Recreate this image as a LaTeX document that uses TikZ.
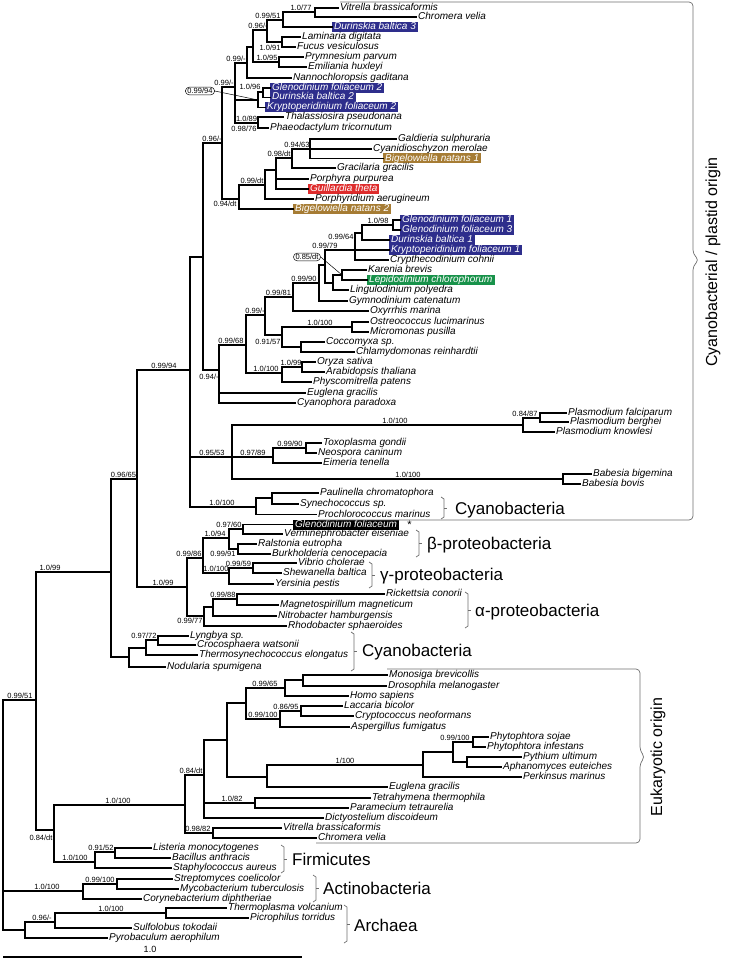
\documentclass[tikz,border=0pt]{standalone}
\usepackage{fontspec}
\setmainfont{Liberation Sans}
\definecolor{dblue}{RGB}{46,46,140}
\definecolor{brn}{RGB}{166,124,52}
\definecolor{rd}{RGB}{222,44,44}
\definecolor{grn}{RGB}{24,146,74}
\definecolor{brk}{RGB}{110,110,110}
\tikzset{
 br/.style={line width=1.3pt, line cap=rect},
 leaf/.style={anchor=west, inner xsep=2pt, inner ysep=0pt, font=\fontsize{10}{10}\selectfont\itshape, text height=7pt, text depth=2pt},
 bx/.style={leaf, fill=#1, text=white, inner ysep=0.5pt},
 sup/.style={anchor=south, inner sep=0pt, font=\fontsize{7.5}{8}\selectfont, text height=5.5pt, text depth=0pt},
 supb/.style={sup, anchor=north},
 grp/.style={anchor=base west, inner sep=0pt, font=\fontsize{17}{18}\selectfont},
 brace/.style={draw=brk, line width=0.7pt},
 oval/.style={draw, rounded corners=3.5pt, inner xsep=2pt, inner ysep=1pt, font=\fontsize{7.5}{8}\selectfont, line width=0.5pt},
}
\newcommand{\tEl}[2]{\draw[br] (#1) |- (#2);}
\newcommand{\tLf}[2]{\draw[br] (#1) |- (#2.west);}
\newcommand{\tLv}[4]{\node[leaf] (#1) at (#2,#3) {#4};}
\newcommand{\tBx}[5]{\node[bx=#5] (#1) at (#2,#3) {#4};}
\newcommand{\tSu}[4]{\node[sup] (#1) at (#2,#3) {#4};}
\newcommand{\tSb}[4]{\node[supb] (#1) at (#2,#3) {#4};}
\newcommand{\tIc}[3]{\coordinate (#1) at (#2,#3);}
\newcommand{\tGb}[3]{\draw[brace] ({#1-3},#2) -- (#1,{#2+2}) -- (#1,{#3-2}) -- ({#1-3},#3); \draw[brace] (#1,{(#2+#3)/2}) -- ({#1+3},{(#2+#3)/2});}
\begin{document}
\begin{tikzpicture}[x=1pt,y=-1pt]
\useasboundingbox (0,0) rectangle (728,960);
% ---------------- leaves ----------------
\tLv{L1}{338}{8}{Vitrella brassicaformis}
\tLv{L2}{416}{17}{Chromera velia}
\tBx{L3}{332}{27}{Durinskia baltica 3}{dblue}
\tLv{L4}{300}{37}{Laminaria digitata}
\tLv{L5}{295}{47}{Fucus vesiculosus}
\tLv{L6}{303}{57}{Prymnesium parvum}
\tLv{L7}{306}{67}{Emiliania huxleyi}
\tLv{L8}{291}{78}{Nannochloropsis gaditana}
\tBx{L9}{270}{88}{Glenodinium foliaceum 2}{dblue}
\tBx{L10}{270}{97.5}{Durinskia baltica 2}{dblue}
\tBx{L11}{265}{107.5}{Kryptoperidinium foliaceum 2}{dblue}
\tLv{L12}{283}{117}{Thalassiosira pseudonana}
\tLv{L13}{268}{128}{Phaeodactylum tricornutum}
\tLv{L14}{396}{139}{Galdieria sulphuraria}
\tLv{L15}{371}{149}{Cyanidioschyzon merolae}
\tBx{L16}{383}{158.5}{Bigelowiella natans 1}{brn}
\tLv{L17}{335}{168}{Gracilaria gracilis}
\tLv{L18}{308}{179}{Porphyra purpurea}
\tBx{L19}{308}{189}{Guillardia theta}{rd}
\tLv{L20}{313}{199}{Porphyridium aerugineum}
\tBx{L21}{293}{209}{Bigelowiella natans 2}{brn}
\tBx{L22}{400}{220}{Glenodinium foliaceum 1}{dblue}
\tBx{L23}{400}{230}{Glenodinium foliaceum 3}{dblue}
\tBx{L24}{389}{240}{Durinskia baltica 1}{dblue}
\tBx{L25}{389}{250}{Kryptoperidinium foliaceum 1}{dblue}
\tLv{L26}{388}{260}{Crypthecodinium cohnii}
\tLv{L27}{366}{270}{Karenia brevis}
\tBx{L28}{367}{280}{Lepidodinium chlorophorum}{grn}
\tLv{L29}{348}{290}{Lingulodinium polyedra}
\tLv{L30}{347}{301}{Gymnodinium catenatum}
\tLv{L31}{368}{311}{Oxyrrhis marina}
\tLv{L32}{368}{322}{Ostreococcus lucimarinus}
\tLv{L33}{368}{332}{Micromonas pusilla}
\tLv{L34}{324}{342}{Coccomyxa sp.}
\tLv{L35}{354}{352}{Chlamydomonas reinhardtii}
\tLv{L36}{315}{362}{Oryza sativa}
\tLv{L37}{324}{372}{Arabidopsis thaliana}
\tLv{L38}{311}{382}{Physcomitrella patens}
\tLv{L39}{305}{393}{Euglena gracilis}
\tLv{L40}{295}{403}{Cyanophora paradoxa}
\tLv{L41}{566}{413}{Plasmodium falciparum}
\tLv{L42}{568}{422}{Plasmodium berghei}
\tLv{L43}{554}{432}{Plasmodium knowlesi}
\tLv{L44}{321}{443}{Toxoplasma gondii}
\tLv{L45}{316}{453}{Neospora caninum}
\tLv{L46}{321}{463}{Eimeria tenella}
\tLv{L47}{591}{474}{Babesia bigemina}
\tLv{L48}{580}{484}{Babesia bovis}
\tLv{L49}{318}{493}{Paulinella chromatophora}
\tLv{L50}{298}{504}{Synechococcus sp.}
\tLv{L51}{316}{514.5}{Prochlorococcus marinus}
\tBx{L52}{293}{524.5}{Glenodinium foliaceum}{black}
\tLv{L53}{282}{534}{Verminephrobacter eiseniae}
\tLv{L54}{256}{544}{Ralstonia eutropha}
\tLv{L55}{270}{554}{Burkholderia cenocepacia}
\tLv{L56}{296}{563}{Vibrio cholerae}
\tLv{L57}{281}{573}{Shewanella baltica}
\tLv{L58}{273}{584}{Yersinia pestis}
\tLv{L59}{384}{594}{Rickettsia conorii}
\tLv{L60}{278}{605}{Magnetospirillum magneticum}
\tLv{L61}{276}{616}{Nitrobacter hamburgensis}
\tLv{L62}{286}{626}{Rhodobacter sphaeroides}
\tLv{L63}{188}{636}{Lyngbya sp.}
\tLv{L64}{195}{645}{Crocosphaera watsonii}
\tLv{L65}{197}{655}{Thermosynechococcus elongatus}
\tLv{L66}{165}{667}{Nodularia spumigena}
\tLv{L67}{387}{675}{Monosiga brevicollis}
\tLv{L68}{386}{686}{Drosophila melanogaster}
\tLv{L69}{348}{696}{Homo sapiens}
\tLv{L70}{342}{706}{Laccaria bicolor}
\tLv{L71}{353}{716}{Cryptococcus neoformans}
\tLv{L72}{349}{727}{Aspergillus fumigatus}
\tLv{L73}{488}{737}{Phytophtora sojae}
\tLv{L74}{485}{747}{Phytophtora infestans}
\tLv{L75}{521}{757}{Pythium ultimum}
\tLv{L76}{501}{767}{Aphanomyces euteiches}
\tLv{L77}{521}{777}{Perkinsus marinus}
\tLv{L78}{387}{787}{Euglena gracilis}
\tLv{L79}{370}{798}{Tetrahymena thermophila}
\tLv{L80}{348}{808}{Paramecium tetraurelia}
\tLv{L81}{323}{818}{Dictyostelium discoideum}
\tLv{L82}{281}{828}{Vitrella brassicaformis}
\tLv{L83}{316}{838}{Chromera velia}
\tLv{L84}{151}{848}{Listeria monocytogenes}
\tLv{L85}{170}{858}{Bacillus anthracis}
\tLv{L86}{171}{868}{Staphylococcus aureus}
\tLv{L87}{172}{879}{Streptomyces coelicolor}
\tLv{L88}{178}{889}{Mycobacterium tuberculosis}
\tLv{L89}{141}{899}{Corynebacterium diphtheriae}
\tLv{L90}{226}{908}{Thermoplasma volcanium}
\tLv{L91}{248}{918}{Picrophilus torridus}
\tLv{L92}{131}{928}{Sulfolobus tokodaii}
\tLv{L93}{107}{938}{Pyrobaculum aerophilum}
\node[anchor=base west, inner sep=0pt, font=\fontsize{11}{11}\selectfont] (ast) at ([xshift=8pt]L52.east |- 0,528) {*};
% ---------------- internal nodes ----------------
\tIc{n077}{315}{12} \tIc{n051}{283}{20} \tIc{n091}{282}{42} \tIc{n096}{267}{30}
\tIc{n095}{279}{62} \tIc{nB}{253}{47} \tIc{nA}{247}{63} \tIc{nD1}{263}{92}
\tIc{nD}{258}{100} \tIc{nE}{258}{123} \tIc{nC}{235}{87}
\tIc{nU}{310}{149} \tIc{nS}{292}{158} \tIc{nR}{276}{170} \tIc{nQ}{265}{185}
\tIc{n239}{239}{199} \tIc{nP}{222}{143}
\tIc{nV}{393}{225} \tIc{nW}{362}{233} \tIc{nX}{355}{250} \tIc{nN4}{342}{275}
\tIc{nN5}{333}{283} \tIc{nN2}{325}{265} \tIc{nN1}{319}{283} \tIc{n293}{293}{297}
\tIc{n352}{352}{327} \tIc{n301}{301}{347} \tIc{n282a}{282}{335} \tIc{n265}{265}{315}
\tIc{n302}{302}{367} \tIc{n282b}{282}{373} \tIc{n246}{246}{345} \tIc{n219}{219}{370}
\tIc{n203}{203}{257}
\tIc{n540}{540}{418} \tIc{n523}{523}{425} \tIc{n306}{306}{448} \tIc{n273}{273}{457}
\tIc{n563}{563}{479} \tIc{n232}{232}{457} \tIc{n272}{272}{498} \tIc{n256}{256}{507}
\tIc{n190}{190}{370}
\tIc{n243}{243}{529} \tIc{n238}{238}{549} \tIc{n229b}{229}{538} \tIc{n253}{253}{568}
\tIc{n229g}{229}{573} \tIc{n203p}{203}{558} \tIc{n237}{237}{599} \tIc{n213}{213}{607}
\tIc{n204}{204}{616} \tIc{n187}{187}{587} \tIc{n137}{137}{479}
\tIc{n158}{158}{640} \tIc{n146}{146}{648} \tIc{n129}{129}{657} \tIc{n111}{111}{572}
\tIc{n303}{303}{680} \tIc{n285}{285}{688} \tIc{n301e}{301}{711} \tIc{n280}{280}{719}
\tIc{n246e}{246}{703} \tIc{n473}{473}{742} \tIc{n467}{467}{762} \tIc{n453}{453}{752}
\tIc{n423}{423}{765} \tIc{n267}{267}{777} \tIc{n227}{227}{740} \tIc{n255}{255}{803}
\tIc{n204e}{204}{775} \tIc{n213e}{213}{833} \tIc{n185}{185}{805}
\tIc{n115}{115}{852} \tIc{n095f}{95}{862} \tIc{n054}{54}{830} \tIc{n036}{36}{700}
\tIc{n117}{117}{884} \tIc{n083}{83}{891}
\tIc{n166}{166}{913} \tIc{n055}{55}{922} \tIc{n025}{25}{930} \tIc{n003}{3}{815}
% ---------------- branches ----------------
\tLf{n077}{L1} \tLf{n077}{L2} \tEl{n051}{n077} \tLf{n051}{L3}
\tLf{n091}{L4} \tLf{n091}{L5} \tEl{n096}{n051} \tEl{n096}{n091}
\tLf{n095}{L6} \tLf{n095}{L7} \tEl{nB}{n096} \tEl{nB}{n095}
\tEl{nA}{nB} \tLf{nA}{L8}
\tLf{nD1}{L9} \tLf{nD1}{L10} \tEl{nD}{nD1} \tLf{nD}{L11}
\tLf{nE}{L12} \tLf{nE}{L13}
\tEl{nC}{nA} \tEl{nC}{nD} \tEl{nC}{nE}
\tLf{nU}{L14} \tLf{nU}{L15} \tLf{nU}{L16} \tEl{nS}{nU} \tLf{nS}{L17}
\tEl{nR}{nS} \tLf{nR}{L18} \tLf{nR}{L19} \tEl{nQ}{nR} \tLf{nQ}{L20}
\tEl{n239}{nQ} \tLf{n239}{L21}
\tEl{nP}{nC} \tEl{nP}{n239}
\tLf{nV}{L22} \tLf{nV}{L23} \tEl{nW}{nV} \tLf{nW}{L24}
\tEl{nX}{nW} \tLf{nX}{L25} \tLf{nX}{L26}
\tLf{nN4}{L27} \tLf{nN4}{L28} \tEl{nN5}{nN4} \tLf{nN5}{L29}
\tEl{nN2}{nX} \tEl{nN2}{nN5} \tEl{nN1}{nN2} \tLf{nN1}{L30}
\tEl{n293}{nN1} \tLf{n293}{L31}
\tLf{n352}{L32} \tLf{n352}{L33} \tLf{n301}{L34} \tLf{n301}{L35}
\tEl{n282a}{n352} \tEl{n282a}{n301} \tEl{n265}{n293} \tEl{n265}{n282a}
\tLf{n302}{L36} \tLf{n302}{L37} \tEl{n282b}{n302} \tLf{n282b}{L38}
\tEl{n246}{n265} \tEl{n246}{n282b}
\tEl{n219}{n246} \tLf{n219}{L39} \tLf{n219}{L40}
\tEl{n203}{nP} \tEl{n203}{n219}
\tLf{n540}{L41} \tLf{n540}{L42} \tEl{n523}{n540} \tLf{n523}{L43}
\tLf{n306}{L44} \tLf{n306}{L45} \tEl{n273}{n306} \tLf{n273}{L46}
\tLf{n563}{L47} \tLf{n563}{L48}
\tEl{n232}{n523} \tEl{n232}{n273} \tEl{n232}{n563}
\tLf{n272}{L49} \tLf{n272}{L50} \tEl{n256}{n272} \tLf{n256}{L51}
\tEl{n190}{n203} \tEl{n190}{n232} \tEl{n190}{n256}
\tLf{n243}{L52} \tLf{n243}{L53} \tLf{n238}{L54} \tLf{n238}{L55}
\tEl{n229b}{n243} \tEl{n229b}{n238}
\tLf{n253}{L56} \tLf{n253}{L57} \tEl{n229g}{n253} \tLf{n229g}{L58}
\tEl{n203p}{n229b} \tEl{n203p}{n229g}
\tLf{n237}{L59} \tLf{n237}{L60} \tEl{n213}{n237} \tLf{n213}{L61}
\tEl{n204}{n213} \tLf{n204}{L62}
\tEl{n187}{n203p} \tEl{n187}{n204}
\tEl{n137}{n190} \tEl{n137}{n187}
\tLf{n158}{L63} \tLf{n158}{L64} \tEl{n146}{n158} \tLf{n146}{L65}
\tEl{n129}{n146} \tLf{n129}{L66}
\tEl{n111}{n137} \tEl{n111}{n129}
\tLf{n303}{L67} \tLf{n303}{L68} \tEl{n285}{n303} \tLf{n285}{L69}
\tLf{n301e}{L70} \tLf{n301e}{L71} \tEl{n280}{n301e} \tLf{n280}{L72}
\tEl{n246e}{n285} \tEl{n246e}{n280}
\tLf{n473}{L73} \tLf{n473}{L74} \tLf{n467}{L75} \tLf{n467}{L76}
\tEl{n453}{n473} \tEl{n453}{n467} \tEl{n423}{n453} \tLf{n423}{L77}
\tEl{n267}{n423} \tLf{n267}{L78}
\tEl{n227}{n246e} \tEl{n227}{n267}
\tLf{n255}{L79} \tLf{n255}{L80}
\tEl{n204e}{n227} \tEl{n204e}{n255} \tLf{n204e}{L81}
\tLf{n213e}{L82} \tLf{n213e}{L83}
\tEl{n185}{n204e} \tEl{n185}{n213e}
\tLf{n115}{L84} \tLf{n115}{L85} \tEl{n095f}{n115} \tLf{n095f}{L86}
\tEl{n054}{n185} \tEl{n054}{n095f}
\tEl{n036}{n111} \tEl{n036}{n054}
\tLf{n117}{L87} \tLf{n117}{L88} \tEl{n083}{n117} \tLf{n083}{L89}
\tLf{n166}{L90} \tLf{n166}{L91} \tEl{n055}{n166} \tLf{n055}{L92}
\tEl{n025}{n055} \tLf{n025}{L93}
\tEl{n003}{n036} \tEl{n003}{n083} \tEl{n003}{n025}
% ---------------- support values ----------------
\tSu{s1}{301}{10.5}{1.0/77}
\tSu{s2}{268}{18.5}{0.99/51}
\tSu{s3}{258}{28.5}{0.96/-}
\tSb{s4}{270}{45}{1.0/91}
\tSu{s5}{236}{61.5}{0.99/-}
\tSu{s6}{267}{60.5}{1.0/95}
\tSu{s7}{224}{85.5}{0.99/-}
\tSu{s8}{250}{90}{1.0/96}
\tSu{s9}{246.5}{121.5}{1.0/89}
\tSb{s10}{244}{126}{0.98/76}
\tSu{s11}{212}{141.5}{0.96/-}
\tSu{s12}{297}{147.5}{0.94/63}
\tSu{s13}{279}{156.5}{0.98/dt}
\tSu{s14}{252}{183.5}{0.99/dt}
\tSb{s15}{225}{201}{0.94/dt}
\tSu{s16}{378}{223.5}{1.0/98}
\tSu{s17}{341}{240}{0.99/64}
\tSu{s18}{325}{248.5}{0.99/79}
\tSu{s19}{304}{281.5}{0.99/90}
\tSu{s20}{278.5}{295.5}{0.99/81}
\tSu{s21}{255}{313.5}{0.99/-}
\tSu{s22}{320}{325.5}{1.0/100}
\tSb{s23}{268}{339}{0.91/57}
\tSu{s24}{231}{343.5}{0.99/68}
\tSu{s25}{291}{365.5}{1.0/99}
\tSu{s26}{266}{371.5}{1.0/100}
\tSb{s27}{209}{374}{0.94/-}
\tSu{s28}{164}{368.5}{0.99/94}
\tSu{s29}{395}{423.5}{1.0/100}
\tSu{s30}{525}{416.5}{0.84/87}
\tSu{s31}{212}{455.5}{0.95/53}
\tSu{s32}{253}{455.5}{0.97/89}
\tSu{s33}{290}{446.5}{0.99/90}
\tSu{s34}{408}{477.5}{1.0/100}
\tSu{s35}{222}{505.5}{1.0/100}
\tSu{s36}{123.5}{477.5}{0.96/65}
\tSu{s37}{229}{527.5}{0.97/60}
\tSu{s38}{215}{536.5}{1.0/94}
\tSb{s39}{223}{551}{0.99/91}
\tSu{s40}{189}{556.5}{0.99/86}
\tSu{s41}{238.5}{566.5}{0.99/59}
\tSu{s42}{216}{571.5}{1.0/100}
\tSu{s43}{223}{597.5}{0.99/88}
\tSb{s44}{190}{618}{0.99/77}
\tSu{s45}{163}{585.5}{1.0/99}
\tSu{s46}{50}{570.5}{1.0/99}
\tSu{s47}{144}{638.5}{0.97/72}
\tSu{s48}{20}{698.5}{0.99/51}
\tSu{s49}{265}{686.5}{0.99/65}
\tSu{s50}{286}{709.5}{0.86/95}
\tSu{s51}{263}{717.5}{0.99/100}
\tSu{s52}{345}{763.5}{1/100}
\tSu{s53}{455}{740.5}{0.99/100}
\tSu{s54}{191}{773.5}{0.84/dt}
\tSu{s55}{232}{801.5}{1.0/82}
\tSu{s56}{118}{803.5}{1.0/100}
\tSu{s57}{198}{831.5}{0.98/82}
\tSb{s58}{41}{835}{0.84/dt}
\tSu{s59}{75}{860.5}{1.0/100}
\tSu{s60}{101}{850.5}{0.91/52}
\tSu{s61}{47}{889.5}{1.0/100}
\tSu{s62}{100}{882.5}{0.99/100}
\tSu{s63}{42}{920.5}{0.96/-}
\tSu{s64}{111}{911.5}{1.0/100}
\node[oval] (ov1) at (200,91) {0.99/94};
\node[oval] (ov2) at (307,257) {0.85/dt};
\draw[line width=0.5pt] (ov1.east) -- (nD);
\draw[line width=0.5pt] (ov2.east) -- (nN4);
% ---------------- group brackets and labels ----------------
\tGb{444}{497}{519}
\node[grp] (g1) at (455,514) {Cyanobacteria};
\tGb{419}{530}{557}
\node[grp] (g2) at (427,549) {β-proteobacteria};
\tGb{372}{562}{588}
\node[grp] (g3) at (380,580) {γ-proteobacteria};
\tGb{468}{592}{628}
\node[grp] (g4) at (475,616) {α-proteobacteria};
\tGb{354}{632}{671}
\node[grp] (g5) at (362,656) {Cyanobacteria};
\tGb{284}{845}{873}
\node[grp] (g6) at (292,865) {Firmicutes};
\tGb{316}{875}{902}
\node[grp] (g7) at (323,894) {Actinobacteria};
\tGb{347}{905}{943}
\node[grp] (g8) at (354,931) {Archaea};
% big braces
\draw[brace, rounded corners=4pt] (340,2) -- (693,2) -- (693,254) -- (699,260) -- (693,266) -- (693,520) -- (318,520);
\node[rotate=90, inner sep=0pt, font=\fontsize{16}{16}\selectfont] (gPl) at (713,262) {Cyanobacterial / plastid origin};
\draw[brace, rounded corners=4pt] (387,669) -- (640,669) -- (640,751) -- (645,757) -- (640,763) -- (640,843) -- (316,843);
\node[rotate=90, inner sep=0pt, font=\fontsize{16}{16}\selectfont] (gEu) at (658,757) {Eukaryotic origin};
% scale bar
\coordinate (sb1) at (3,957);
\coordinate (sb2) at (302,957);
\draw[line width=1.1pt] (sb1) -- (sb2);
\node[font=\fontsize{9}{9}\selectfont, inner sep=0pt] (sbl) at (150,949) {1.0};
\end{tikzpicture}
\end{document}
